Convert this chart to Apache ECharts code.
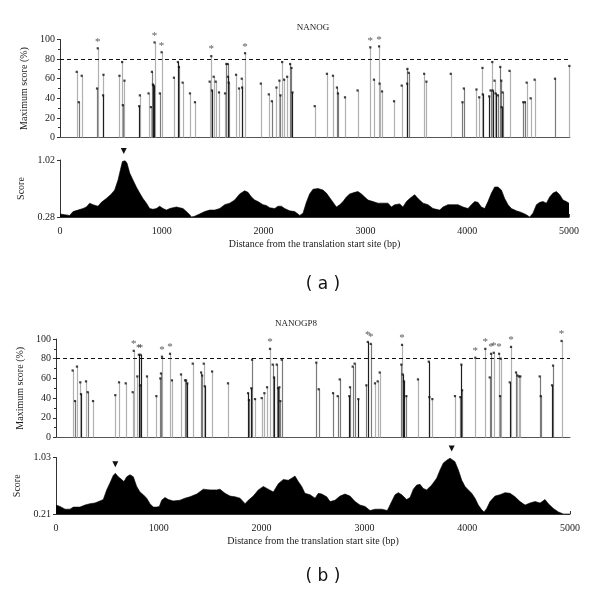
<!DOCTYPE html>
<html><head><meta charset="utf-8">
<script src="https://cdn.jsdelivr.net/npm/echarts@6/dist/echarts.min.js"></script>
<style>html,body{margin:0;padding:0;background:#fff}#c{width:600px;height:597px}</style>
</head><body><div id="c"></div><script>
// ---- NANOG (a): maximum score stems [position bp, score %] ----
const nanogLight = [[164,67],[213,63],[370,91],[426,64],[583,63],[609,77],[632,58],[783,43],[868,45],[891,31],[927,97],[996,87],[1117,61],[1202,56],[1274,45],[1323,36],[1467,57],[1483,83],[1507,62],[1526,57],[1559,46],[1618,45],[1726,64],[1755,50],[1782,60],[1814,86],[1969,55],[2047,44],[2122,51],[2151,58],[2178,77],[2197,59],[2227,62],[2497,32],[2617,65],[2676,63],[2794,41],[2917,48],[3042,92],[3078,59],[3128,93],[3133,55],[3157,47],[3275,37],[3350,53],[3570,65],[3592,57],[3831,65],[4083,49],[4110,41],[4142,71],[4238,77],[4260,58],[4407,68],[4575,56],[4614,40],[4653,59],[4994,73]];
const nanogMid = [[184,36],[363,50],[616,33],[901,67],[979,45],[1166,72],[1631,75],[1644,75],[1654,56],[2077,37],[2161,43],[2256,75],[2269,71],[2715,51],[2725,45],[3406,70],[3418,66],[3946,36],[3959,50],[4221,48],[4293,43],[4316,72],[4326,58],[4339,46],[4542,36],[4558,36],[4853,60]];
const nanogDark = [[422,43],[776,32],[911,54],[917,53],[1156,77],[1490,48],[1647,62],[1785,51],[2279,46],[3403,55],[4145,44],[4208,42],[4241,48],[4270,45],[4329,31]];
// ---- NANOG (a): score profile [position bp, score] ----
const nanogProfile = [[0,0.32],[46,0.31],[95,0.30],[128,0.35],[177,0.37],[226,0.39],[259,0.41],[292,0.46],[324,0.44],[373,0.42],[406,0.47],[455,0.52],[505,0.58],[537,0.63],[570,0.76],[593,0.89],[613,1.00],[626,1.02],[640,1.01],[658,0.98],[685,0.85],[717,0.76],[750,0.67],[783,0.59],[815,0.52],[849,0.46],[881,0.39],[914,0.38],[947,0.39],[979,0.42],[1012,0.39],[1045,0.37],[1078,0.39],[1110,0.40],[1143,0.41],[1176,0.40],[1208,0.39],[1242,0.35],[1274,0.31],[1291,0.28],[1323,0.29],[1372,0.32],[1421,0.35],[1471,0.37],[1520,0.37],[1569,0.39],[1618,0.44],[1667,0.46],[1716,0.50],[1765,0.58],[1814,0.62],[1847,0.60],[1880,0.54],[1913,0.50],[1945,0.48],[1994,0.44],[2027,0.43],[2060,0.40],[2109,0.39],[2142,0.42],[2175,0.42],[2207,0.39],[2256,0.36],[2306,0.35],[2355,0.30],[2387,0.33],[2420,0.47],[2452,0.58],[2485,0.64],[2502,0.65],[2534,0.65],[2583,0.63],[2617,0.59],[2666,0.50],[2715,0.41],[2748,0.44],[2780,0.48],[2813,0.54],[2846,0.58],[2895,0.60],[2927,0.61],[2961,0.58],[2993,0.54],[3026,0.50],[3075,0.48],[3124,0.46],[3173,0.46],[3222,0.46],[3255,0.41],[3288,0.44],[3337,0.45],[3369,0.41],[3403,0.48],[3435,0.52],[3484,0.57],[3517,0.52],[3566,0.46],[3615,0.44],[3664,0.39],[3730,0.37],[3762,0.41],[3811,0.44],[3860,0.44],[3910,0.44],[3959,0.41],[4008,0.39],[4041,0.44],[4074,0.48],[4106,0.47],[4139,0.41],[4172,0.39],[4204,0.48],[4238,0.59],[4270,0.67],[4302,0.67],[4336,0.63],[4368,0.52],[4401,0.44],[4434,0.39],[4483,0.36],[4532,0.34],[4581,0.31],[4614,0.28],[4646,0.33],[4680,0.44],[4712,0.47],[4745,0.48],[4778,0.46],[4810,0.54],[4843,0.59],[4876,0.61],[4909,0.57],[4941,0.50],[4974,0.48],[5000,0.46]];
const nanogPeaks = [[626,1.02]];

// ---- NANOGP8 (b): maximum score stems ----
const gp8Light = [[162,68],[204,72],[236,56],[292,57],[360,37],[577,43],[613,56],[678,55],[746,46],[756,88],[791,62],[885,62],[976,42],[1031,82],[1109,85],[1128,58],[1216,64],[1330,75],[1437,75],[1518,67],[1673,55],[1936,39],[2001,40],[2027,45],[2053,51],[2082,90],[3103,55],[3129,57],[3149,66],[3366,94],[3521,59],[3661,39],[3881,42],[4079,81],[4176,90],[4258,86],[4310,85],[4326,80],[4426,92],[4488,63],[4504,62],[4517,62],[4918,98]];
const gp8Mid = [[185,37],[308,46],[817,53],[1015,60],[1021,65],[1255,58],[1265,58],[1411,66],[1421,63],[1877,38],[1907,79],[2108,74],[2147,74],[2173,51],[2182,37],[2196,79],[2532,76],[2555,49],[2695,45],[2740,42],[2760,59],[2860,51],[2886,72],[2905,75],[3019,53],[3062,95],[3359,74],[3408,42],[3632,41],[3933,41],[3950,48],[4219,61],[4232,85],[4319,42],[4475,66],[4705,62],[4715,42],[4835,73]];
const gp8Dark = [[243,44],[806,84],[822,84],[1277,55],[1447,52],[1868,45],[1900,50],[2121,61],[2160,50],[2853,42],[2941,39],[3033,97],[3372,64],[3385,57],[3626,77],[3943,74],[4414,56],[4825,53]];
// ---- NANOGP8 (b): score profile ----
const gp8Profile = [[0,0.34],[39,0.32],[88,0.28],[136,0.28],[169,0.31],[233,0.31],[282,0.34],[331,0.36],[379,0.37],[428,0.40],[460,0.42],[493,0.56],[525,0.66],[557,0.77],[577,0.80],[606,0.75],[639,0.71],[661,0.68],[688,0.75],[720,0.78],[752,0.75],[785,0.61],[817,0.53],[849,0.49],[882,0.44],[914,0.36],[947,0.31],[979,0.31],[1005,0.32],[1028,0.41],[1060,0.45],[1093,0.42],[1141,0.40],[1206,0.41],[1255,0.44],[1304,0.46],[1369,0.50],[1433,0.57],[1498,0.56],[1563,0.56],[1595,0.57],[1644,0.51],[1693,0.47],[1741,0.46],[1790,0.44],[1839,0.36],[1871,0.41],[1919,0.47],[1968,0.56],[2017,0.61],[2065,0.57],[2114,0.53],[2163,0.65],[2211,0.71],[2260,0.70],[2293,0.73],[2325,0.76],[2357,0.68],[2390,0.61],[2422,0.51],[2471,0.49],[2520,0.44],[2552,0.51],[2585,0.50],[2633,0.46],[2666,0.39],[2714,0.41],[2763,0.47],[2811,0.50],[2860,0.47],[2909,0.39],[2957,0.34],[3006,0.32],[3055,0.26],[3104,0.28],[3169,0.28],[3223,0.26],[3249,0.34],[3298,0.49],[3330,0.52],[3363,0.49],[3411,0.42],[3444,0.45],[3476,0.57],[3509,0.63],[3541,0.64],[3573,0.58],[3606,0.56],[3655,0.63],[3703,0.73],[3736,0.85],[3768,0.95],[3801,0.99],[3833,1.02],[3849,1.03],[3881,0.97],[3914,0.85],[3947,0.70],[3979,0.61],[4011,0.56],[4044,0.51],[4076,0.44],[4108,0.34],[4141,0.27],[4164,0.24],[4190,0.29],[4222,0.39],[4271,0.47],[4319,0.49],[4368,0.52],[4417,0.51],[4465,0.46],[4514,0.39],[4563,0.34],[4611,0.37],[4660,0.39],[4709,0.37],[4757,0.42],[4789,0.36],[4838,0.29],[4887,0.24],[4935,0.21],[5000,0.21]];
const gp8Peaks = [[577,0.80],[3849,1.03]];

// ---- axis settings ----
const posMin = 0, posMax = 5000, posTickStep = 250, posLabelStep = 1000;
const maxScoreTicks = [0, 20, 40, 60, 80, 100];
const threshold = 80;
const nanogScoreRange = [0.28, 1.02];
const gp8ScoreRange = [0.21, 1.03];
const xTitle = 'Distance from the translation start site (bp)';

const SERIF = '"Liberation Serif", "DejaVu Serif", serif';
const TXT = '#1a1a1a';
const LIGHT = '#b0b0b0', MID = '#7a7a7a', DARK = '#1e1e1e';

function stemSeries(data, color, idx) {
  return {
    type: 'custom', xAxisIndex: idx, yAxisIndex: idx, data: data, silent: true,
    encode: {x: 0, y: 1},
    renderItem: function (params, api) {
      const x = api.value(0), y = api.value(1);
      const t = api.coord([x, y]), b = api.coord([x, 0]);
      return {type: 'line', shape: {x1: Math.round(t[0]) + 0.5, y1: t[1], x2: Math.round(b[0]) + 0.5, y2: b[1]},
        style: {stroke: color, lineWidth: 1.2}};
    }
  };
}
function topSeries(data, idx) {
  return {
    type: 'scatter', xAxisIndex: idx, yAxisIndex: idx, data: data, silent: true,
    symbol: 'rect', symbolSize: 2.2, itemStyle: {color: '#111'},
    label: {show: true, position: 'top', distance: 0, color: '#333', fontSize: 11, fontFamily: SERIF,
      formatter: p => p.value[1] > threshold ? '*' : ''},
    labelLayout: {hideOverlap: false},
    markLine: {silent: true, symbol: ['none', 'none'], label: {show: false},
      lineStyle: {type: [4, 3], color: '#111', width: 1}, data: [{yAxis: threshold}]}
  };
}
function areaSeries(data, peaks, idx) {
  return {
    type: 'line', xAxisIndex: idx, yAxisIndex: idx, data: data, showSymbol: false, silent: true,
    lineStyle: {color: '#000', width: 0.6}, areaStyle: {color: '#000', opacity: 1, origin: 'start'},
    markPoint: {silent: true, symbol: 'triangle', symbolSize: [6, 6], symbolRotate: 180,
      symbolOffset: [0, -9], itemStyle: {color: '#111'}, label: {show: false},
      data: peaks.map(p => ({coord: p}))}
  };
}
function stemX(idx) {
  return {type: 'value', gridIndex: idx, min: posMin, max: posMax,
    axisLine: {show: true, lineStyle: {color: '#555', width: 1}}, axisTick: {show: false},
    axisLabel: {show: false}, splitLine: {show: false}};
}
function stemY(idx, gap) {
  return {type: 'value', gridIndex: idx, min: 0, max: 100, interval: 20,
    name: 'Maximum score (%)', nameLocation: 'middle', nameGap: gap,
    nameTextStyle: {fontFamily: SERIF, fontSize: 10, color: TXT},
    axisLine: {show: true, lineStyle: {color: '#333', width: 1}},
    axisTick: {show: true, length: 3, lineStyle: {color: '#333'}},
    minorTick: {show: true, splitNumber: 2, length: 2, lineStyle: {color: '#333'}},
    axisLabel: {fontFamily: SERIF, fontSize: 10, color: TXT, margin: 5,
      customValues: maxScoreTicks},
    splitLine: {show: false}};
}
function profX(idx) {
  return {type: 'value', gridIndex: idx, min: posMin, max: posMax, interval: posTickStep,
    name: xTitle, nameLocation: 'middle', nameGap: 22,
    nameTextStyle: {fontFamily: SERIF, fontSize: 10, color: TXT},
    axisLine: {show: true, lineStyle: {color: '#333', width: 1}},
    axisTick: {show: true, inside: true, length: 3, lineStyle: {color: '#333'}},
    axisLabel: {fontFamily: SERIF, fontSize: 10, color: TXT, margin: 9,
      formatter: v => (v % posLabelStep === 0 ? String(v) : '')},
    splitLine: {show: false}};
}
function profY(idx, range, gap) {
  return {type: 'value', gridIndex: idx, min: range[0], max: range[1],
    name: 'Score', nameLocation: 'middle', nameGap: gap,
    nameTextStyle: {fontFamily: SERIF, fontSize: 10, color: TXT},
    axisLine: {show: true, lineStyle: {color: '#333', width: 1}},
    axisTick: {show: true, length: 3, customValues: range, lineStyle: {color: '#333'}},
    axisLabel: {fontFamily: SERIF, fontSize: 10, color: TXT, margin: 5, customValues: range,
      formatter: v => v.toFixed(2)},
    splitLine: {show: false}};
}

const chart = echarts.init(document.getElementById('c'), null, {renderer: 'canvas'});
chart.setOption({
  animation: false,
  backgroundColor: '#fff',
  grid: [
    {left: 60, width: 510, top: 39.5, height: 98},
    {left: 60, width: 509, top: 160, height: 57},
    {left: 56, width: 514, top: 339, height: 98.5},
    {left: 56, width: 514, top: 457.5, height: 56.5}
  ],
  xAxis: [stemX(0), profX(1), stemX(2), profX(3)],
  yAxis: [stemY(0, 27), profY(1, nanogScoreRange, 25), stemY(2, 23), profY(3, gp8ScoreRange, 21)],
  series: [
    stemSeries(nanogLight, LIGHT, 0), stemSeries(nanogMid, MID, 0), stemSeries(nanogDark, DARK, 0),
    topSeries(nanogLight.concat(nanogMid, nanogDark), 0),
    areaSeries(nanogProfile, nanogPeaks, 1),
    stemSeries(gp8Light, LIGHT, 2), stemSeries(gp8Mid, MID, 2), stemSeries(gp8Dark, DARK, 2),
    topSeries(gp8Light.concat(gp8Mid, gp8Dark), 2),
    areaSeries(gp8Profile, gp8Peaks, 3)
  ],
  graphic: [
    {type: 'text', x: 313, y: 28, style: {text: 'NANOG', font: '9px ' + SERIF, fill: TXT, align: 'center', verticalAlign: 'middle'}},
    {type: 'text', x: 296, y: 324, style: {text: 'NANOGP8', font: '9px ' + SERIF, fill: TXT, align: 'center', verticalAlign: 'middle'}},
    {type: 'text', x: 323, y: 285, style: {text: '( a )', font: '17px "DejaVu Sans", sans-serif', fill: '#111', align: 'center', verticalAlign: 'middle'}},
    {type: 'text', x: 323, y: 577, style: {text: '( b )', font: '17px "DejaVu Sans", sans-serif', fill: '#111', align: 'center', verticalAlign: 'middle'}}
  ]
});
</script></body></html>
